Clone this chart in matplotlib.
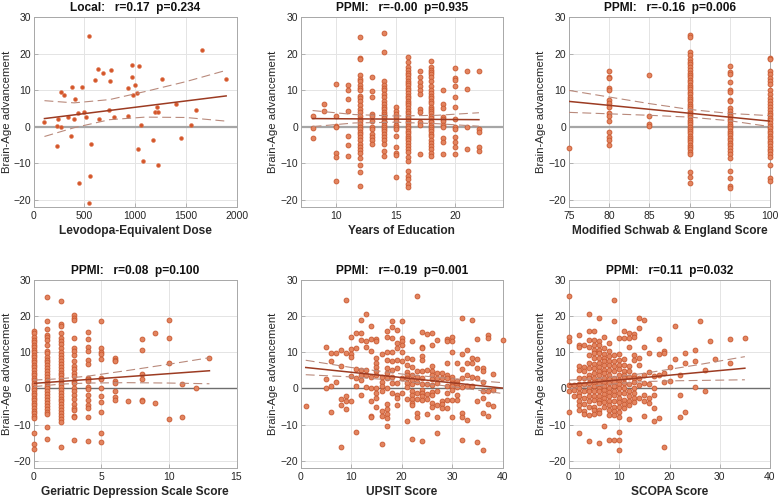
import numpy as np
import matplotlib
matplotlib.use("Agg")
import matplotlib.pyplot as plt

plt.rcParams["font.family"] = ["Liberation Sans", "DejaVu Sans"]

# ---- Local: Levodopa-equivalent dose ----
lev_x = [108, 551, 230, 230, 246, 269, 272, 305, 344, 370, 384, 400, 413, 439, 449,
         482, 502, 515, 551, 564, 561, 610, 633, 643, 682, 754, 764, 748, 793, 931,
         934, 974, 974, 980, 1003, 1020, 1043, 1030, 1062, 1075, 1180, 1200, 1216,
         1226, 1226, 1262, 1403, 1449, 1548, 1603, 1662, 1898]
lev_y = [1.2, 24.8, -5.4, 0.2, 2.1, 9.5, 0.0, 8.6, 2.7, -2.7, 10.8, 2.0, 7.6, 3.7, -15.4,
         10.8, 4.1, 2.6, -21.0, -4.8, -13.5, 12.8, 15.8, 2.1, 14.6, 12.4, 15.6, 4.6, 2.6, 10.6,
         3.0, 16.8, 13.7, 8.6, 11.5, 9.2, 16.5, -6.0, 0.5, -9.3, -3.6, 4.1, 5.3,
         3.9, -10.5, 13.1, 6.2, -3.2, 0.5, 4.6, 21.1, 13.1]
lev_fit_x = [108, 1898]
lev_fit_y = [2.2, 8.4]
lev_ci_x = [108, 400, 750, 1100, 1500, 1898]
lev_ci_hi = [7.1, 6.5, 7.4, 9.6, 12.3, 15.4]
lev_ci_lo = [-2.7, -0.3, 1.9, 2.6, 2.5, 1.5]

# ---- PPMI: Years of education ----
edu_levels = [8, 9, 10, 11, 12, 13, 14, 15, 16, 17, 18, 19, 20, 21, 22]
edu_values = [
    [2.8, -0.5, -3.0],
    [6.2, 4.3],
    [11.7, 3.0, 0.3, 0.0, -7.1, -8.2, -14.8],
    [11.4, 10.1, 7.5, 4.4, -2.7, -4.9, -8.0],
    [24.4, 18.9, 18.6, 14.0, 13.1, 12.4, 11.3, 10.6, 9.9, 8.5, 7.8, 7.1, 5.8, 4.9, 3.9,
     3.0, 2.1, 1.5, 0.7, 0.0, -0.6, -1.6, -2.0, -2.9, -3.8, -4.8, -5.7, -6.4, -7.1, -8.6,
     -10.4, -12.3, -16.2],
    [13.7, 9.7, 8.2, 3.5, 3.0, 1.6, 0.0, -0.6, -2.0, -2.9, -3.7, -4.8],
    [25.5, 20.4, 12.4, 11.3, 10.6, 9.9, 9.0, 8.1, 7.1, 6.2, 5.3, 4.9, 3.9, 3.5, 3.0, 2.4,
     1.6, 1.2, 0.5, 0.0, -0.6, -1.3, -2.0, -2.9, -3.8, -4.8, -6.6, -8.0],
    [5.3, 4.4, 3.5, 2.6, 1.5, 0.5, -0.2, -0.6, -2.5, -5.7, -7.1, -7.7, -13.7],
    [19.0, 17.6, 16.3, 15.4, 14.7, 14.1, 13.4, 12.6, 11.9, 11.3, 10.6, 9.9, 9.2, 8.5, 7.9,
     7.1, 6.4, 5.8, 5.1, 4.4, 3.7, 3.0, 2.4, 1.6, 0.9, 0.3, -0.4, -1.1, -1.8, -2.5, -3.1,
     -3.8, -4.6, -5.3, -6.1, -7.0, -8.4, -9.3, -12.1, -13.5, -14.4, -15.6, -16.5],
    [15.1, 13.7, 12.2, 11.0, 9.9, 8.8, 4.9, 3.9, 1.2, 0.5, -7.5],
    [17.9, 16.3, 15.6, 14.9, 14.3, 13.6, 12.6, 11.0, 10.1, 9.2, 8.5, 7.9, 7.1, 6.4, 5.5,
     4.9, 4.4, 3.7, 3.0, 2.4, 1.6, 1.2, 0.5, 0.0, -0.6, -1.3, -2.0, -2.7, -3.7, -4.6, -5.2,
     -6.1, -7.1, -8.0],
    [9.9, 6.2, 5.1, 2.6, 2.1, 1.5, 0.5, -0.2, -3.1, -4.3, -7.5],
    [16.0, 13.3, 12.8, 11.0, 8.1, 5.3, 2.1, 0.0, -0.6, -2.9, -4.3, -5.7, -7.5],
    [15.1, 10.3, 0.0, -6.1],
    [15.1, -0.6, -1.6, -5.7, -6.8],
]
edu_fit_x = [8, 22]
edu_fit_y = [2.2, 1.9]
edu_ci_x = [8, 11.5, 15, 18.5, 22]
edu_ci_hi = [4.4, 3.3, 2.9, 3.1, 3.8]
edu_ci_lo = [0.0, 1.0, 1.2, 0.8, 0.1]

# ---- PPMI: Modified Schwab & England ----
mse_levels = [75, 80, 85, 90, 95, 100]
mse_values = [
    [-5.8],
    [15.2, 13.7, 13.4, 10.6, 10.1, 7.3, 6.4, 5.3, 3.8, 3.0, 1.6, -1.4, -2.9, -3.7, -4.9],
    [14.1, 2.8, 0.7, 0.2],
    [25.2, 24.5, 20.3, 19.5, 18.6, 17.8, 17.0, 16.2, 15.5, 14.8, 14.1, 13.5, 12.8, 12.1,
     11.5, 10.8, 10.2, 9.5, 8.9, 8.2, 7.6, 7.0, 6.3, 5.7, 5.0, 4.4, 3.8, 3.1, 2.5, 1.9,
     1.2, 0.6, 0.0, -0.6, -1.2, -1.8, -2.5, -3.1, -3.7, -4.3, -5.0, -5.6, -6.2, -6.9,
     -7.6, -12.3, -13.8, -15.3],
    [16.5, 15.0, 14.4, 12.3, 10.0, 9.4, 7.3, 7.0, 5.0, 4.3, 3.5, 2.8, 2.1, 1.4, 0.8, 0.2,
     -0.5, -1.1, -1.8, -2.4, -3.1, -3.8, -4.4, -5.1, -5.8, -6.6, -7.4, -8.5, -12.2,
     -14.2, -16.3, -16.8],
    [18.9, 18.6, 15.2, 14.3, 13.4, 12.6, 11.7, 9.9, 8.9, 7.8, 7.0, 6.2, 5.3, 4.6, 3.8,
     3.1, 2.4, 1.7, 1.0, 0.3, -0.4, -1.1, -1.8, -2.5, -3.2, -3.9, -4.6, -5.3, -6.0, -6.8,
     -7.6, -8.4, -10.4, -14.2, -14.9],
]
mse_fit_x = [75, 100]
mse_fit_y = [6.9, 1.5]
mse_ci_x = [75, 80, 85, 90, 95, 100]
mse_ci_hi = [9.9, 8.1, 6.3, 4.7, 3.6, 3.0]
mse_ci_lo = [3.9, 3.5, 3.1, 2.6, 1.6, 0.0]

# ---- PPMI: Geriatric depression scale ----
gds_levels = [0, 1, 2, 3, 4, 5, 6, 7, 8, 9, 10, 11, 12, 13]
gds_values = [
    [16.0, 15.3, 14.2, 13.5, 12.8, 12.1, 11.4, 10.7, 10.0, 9.3, 8.6, 7.9, 7.2, 6.5, 5.8,
     5.1, 4.4, 3.7, 3.0, 2.3, 1.6, 0.9, 0.2, -0.5, -1.2, -1.9, -2.6, -3.3, -4.0, -4.7,
     -5.4, -6.1, -6.8, -7.5, -8.3, -12.3, -15.4, -16.8],
    [25.3, 18.7, 16.5, 14.8, 14.2, 13.4, 12.0, 10.5, 9.7, 8.8, 8.0, 7.2, 6.4, 5.6, 4.8,
     4.0, 3.2, 2.4, 1.6, 0.8, 0.0, -0.8, -1.6, -2.4, -3.2, -4.0, -4.8, -5.6, -6.4, -7.0,
     -10.6, -14.0],
    [24.3, 17.8, 17.2, 15.3, 14.0, 13.1, 12.2, 11.2, 10.2, 9.3, 8.4, 7.6, 6.8, 6.0, 5.2,
     4.4, 3.6, 2.8, 2.0, 1.2, 0.4, -0.4, -1.2, -2.0, -2.8, -3.6, -4.4, -5.2, -6.0, -6.8,
     -7.6, -8.4, -9.2, -16.3],
    [20.2, 19.6, 19.0, 14.0, 11.3, 10.5, 9.2, 7.5, 6.2, 5.5, 4.3, 3.5, 2.2, 1.4, 0.2,
     -0.8, -1.8, -2.8, -4.2, -5.4, -6.0, -7.5, -8.0, -14.3],
    [15.6, 13.6, 11.5, 10.5, 8.0, 6.9, 3.0, 2.5, 2.0, 0.5, -0.2, -1.7, -3.3, -4.6, -5.3,
     -8.0, -14.4],
    [18.6, 11.3, 10.0, 9.5, 8.2, 3.0, 2.5, 0.0, -2.0, -3.8, -6.6, -12.2, -14.8],
    [8.5, 8.0, 7.6, 2.0, 1.5, -0.8, -2.4, -3.2],
    [-3.5],
    [13.7, 10.6, 4.0, 2.5, -3.1, -3.6],
    [15.3, -4.0],
    [18.9, 14.0, 7.0, -8.5],
    [1.2, -8.0],
    [0.1],
    [8.4],
]
gds_fit_x = [0, 13]
gds_fit_y = [1.4, 4.9]
gds_ci_x = [0, 2, 4, 7, 10, 13]
gds_ci_hi = [2.3, 2.7, 3.4, 5.0, 6.7, 8.5]
gds_ci_lo = [0.5, 1.2, 1.5, 1.6, 1.5, 1.3]

# ---- PPMI: UPSIT ----
ups_levels = [1, 5, 6, 7, 8, 9, 10, 11, 12, 13, 14, 15, 16, 17, 18, 19, 20, 21, 22, 23,
              24, 25, 26, 27, 28, 29, 30, 31, 32, 33, 34, 35, 36, 37, 38, 40]
ups_values = [
    [-4.8],
    [11.4, 2.7, 0.1],
    [9.9, 7.7, 0.6, -6.6],
    [9.9, 1.7],
    [10.7, 6.2, -2.9, -4.6, -16.3],
    [24.6, 9.8, -2.2, -3.4, -5.8],
    [14.1, 10.9, 9.5, 8.6, 3.5, -3.4],
    [15.3, 11.2, 5.4, 2.9, 0.6, -12.1],
    [19.0, 15.3, 13.5, 5.2, 3.8, 2.4, -1.8],
    [20.6, 13.0, 11.6, 5.2, 3.8, 0.3],
    [17.4, 13.8, 10.4, 3.3, 0.1, -3.6, -7.5, -8.0],
    [13.8, 13.0, 8.4, 7.0, 5.8, 4.7, 3.6, 0.1, -1.3, -2.5, -5.0],
    [9.5, 3.3, 1.9, 0.6, -0.8, -6.2, -7.5, -15.3],
    [15.8, 14.1, 10.2, 7.9, 5.6, 4.2, 2.9, 0.1, -4.3, -5.6, -7.1, -8.2, -10.5],
    [18.7, 16.9, 13.9, 10.2, 7.5, 5.2, 3.3, 1.5, -1.3],
    [16.3, 12.6, 11.2, 7.9, 5.6, 1.5, -1.8, -2.7, -4.7],
    [18.7, 13.9, 13.0, 12.1, 10.2, 7.5, 3.0, -1.3],
    [8.4, 6.4, 4.5, 3.8, 2.9, 1.5, 0.3, -2.9, -9.1],
    [13.2, 8.2, 5.8, 3.6, 2.4, 1.2, -0.6, -1.8, -2.9, -4.1, -4.7, -13.9],
    [25.7, 4.7, 3.3, 1.9, -1.3, -2.9, -6.8, -7.8],
    [15.5, 11.6, 11.2, 8.9, 7.9, 4.9, 2.9, 1.2, -0.4, -1.3, -2.2, -3.1, -14.5],
    [15.1, 5.2, 1.2, -1.6, -2.9, -7.1],
    [15.3, 12.1, 6.1, 4.7, 3.6, 2.7, 1.0, -1.0, -1.9, -4.1, -5.0],
    [13.5, 4.2, 2.9, 1.5, -0.8, -4.5, -8.0, -12.4],
    [4.2, 2.9, -3.6, -4.3, -5.3],
    [13.7, 13.0, 7.0, 3.8, 2.9, 0.6, -1.3, -3.1, -5.4],
    [14.1, 13.2, 10.1, 3.3, 2.4, 1.5, 0.6, -0.4, -3.1, -8.0],
    [7.0, 2.1, 1.2, 0.3, -1.9, -3.1],
    [19.5, 9.5, 5.4, 3.0, 0.3, -6.8, -7.8, -14.2],
    [10.7, 7.0, 3.8, 0.6, -8.7],
    [19.0, 8.4, 7.0, 3.3, 0.6],
    [13.8, 8.2, 5.6, 2.9, -3.4, -14.9],
    [5.6, 4.7, 1.9, -0.6, -2.7, -6.8, -17.0],
    [14.9, 13.9, -0.8, -4.3, -7.5],
    [4.0, -0.4, -4.8],
    [13.5],
]
ups_fit_x = [1, 40]
ups_fit_y = [5.8, 0.1]
ups_ci_x = [1, 10, 20, 30, 40]
ups_ci_hi = [7.8, 5.8, 4.0, 2.7, 1.6]
ups_ci_lo = [3.8, 3.2, 2.1, 0.5, -1.4]

# ---- PPMI: SCOPA ----
sco_levels = [0, 1, 2, 3, 4, 5, 6, 7, 8, 9, 10, 11, 12, 13, 14, 15, 16, 17, 18, 19, 20,
              21, 22, 23, 25, 26, 27, 28, 29, 32, 35]
sco_values = [
    [25.5, 14.1, 13.0, 1.0, -0.6, -6.6],
    [1.0, -0.4, -2.2],
    [14.9, 12.1, 11.4, 6.1, 5.2, 2.9, 1.2, 0.1, -1.3, -2.2, -3.6, -4.7, -5.9, -12.4],
    [12.1, 5.8, 4.7, 2.9, 1.2, -0.6, -2.7, -4.3, -6.2, -7.1],
    [20.6, 15.8, 13.5, 11.4, 9.3, 7.0, 5.6, 3.8, 2.9, 1.5, 0.1, -0.8, -2.2, -3.6, -5.0,
     -7.3, -14.5],
    [15.8, 13.5, 12.1, 10.7, 9.8, 8.4, 6.7, 5.6, 4.2, 2.9, 1.8, 0.6, -0.8, -2.2, -3.1,
     -5.0, -5.9, -7.1],
    [19.5, 13.2, 12.1, 10.7, 9.8, 8.4, 7.0, 5.8, 4.7, 3.8, 2.4, 1.2, 0.1, -0.8, -2.2,
     -3.1, -4.1, -5.9, -6.8, -15.1],
    [14.1, 11.2, 9.5, 8.4, 7.5, 6.4, 5.2, 4.2, 3.0, 1.9, 0.8, -0.4, -1.6, -2.7, -3.8,
     -5.0, -10.5],
    [12.6, 10.4, 9.1, 7.5, 6.4, 5.2, 3.8, 2.7, 1.5, 0.1, -1.0, -2.2, -3.4, -4.7, -5.9,
     -7.3, -14.2],
    [24.6, 18.7, 9.3, 7.5, 6.1, 4.7, 2.9, 1.8, 0.6, -0.8, -1.9, -3.6, -5.0, -6.2, -7.3,
     -14.2],
    [13.9, 9.5, 7.9, 6.4, 5.4, 3.8, 2.4, 1.2, 0.1, -1.3, -2.7, -3.8, -5.0, -6.4, -7.8,
     -12.1, -14.2, -17.0],
    [15.8, 13.9, 8.2, 6.4, 4.7, 3.6, 2.9, 1.5, 0.1, -1.3, -3.1, -4.3, -5.4],
    [15.3, 13.9, 11.6, 6.1, 4.7, 3.3, 1.2, -0.8, -2.2, -3.6, -4.7, -8.4],
    [15.1, 14.1, 9.3, 7.9, 3.8, 2.9, 1.8, 0.1, -1.3, -2.7, -3.8],
    [19.5, 16.7, 8.4, 6.4, 2.9, 1.0, -2.5],
    [19.0, 11.6, 3.6, 1.5, -1.8, -3.6, -7.5],
    [9.8, 4.5, 1.2, -2.7, -4.1],
    [3.5, 0.1, -1.9, -5.4, -9.1],
    [13.8, 9.5, 3.8, -8.2],
    [10.4, 9.7, 4.3, 1.8, -16.3],
    [5.8, 2.1],
    [17.3, 8.1],
    [3.7, -1.8, -8.0],
    [9.8, 7.0, -6.6],
    [10.7, 7.7, 0.3],
    [18.7],
    [5.2, -0.6],
    [13.2],
    [8.2],
    [13.8, 7.0],
    [13.9],
]
sco_fit_x = [0, 35]
sco_fit_y = [1.1, 5.6]
sco_ci_x = [0, 5, 10, 15, 20, 25, 30, 35]
sco_ci_hi = [2.3, 2.7, 3.3, 4.2, 5.3, 6.4, 7.6, 8.8]
sco_ci_lo = [-0.1, 0.7, 1.4, 1.9, 2.1, 2.2, 2.3, 2.4]

fit_color = "#9c3b22"
ci_color = "#b98a7c"
face = "#e3845f"
edge = "#c9582f"


def flatten(levels, values):
    xs, ys = [], []
    for lv, vals in zip(levels, values):
        xs += [lv] * len(vals)
        ys += vals
    return xs, ys


def panel(rect, xs, ys, fit_x, fit_y, ci_x, ci_hi, ci_lo, xlim, xticks, xlabel,
          title, zero_color, zero_lw, ylab_px, small=False):
    ax = fig.add_axes(rect)
    ax.set_xlim(xlim)
    ax.set_ylim(-22, 30)
    ax.set_xticks(xticks)
    ax.set_yticks([-20, -10, 0, 10, 20, 30])
    ax.grid(True, color="#e4e4e4", lw=0.7)
    ax.set_axisbelow(True)
    for s in ax.spines.values():
        s.set_color("#a8a8a8")
        s.set_linewidth(0.7)
    ax.tick_params(direction="in", length=3, width=0.6, color="#a8a8a8",
                   labelcolor="#262626", labelsize=7.5, pad=3)
    ax.tick_params(axis="y", pad=2)
    ax.axhline(0, color=zero_color, lw=zero_lw, zorder=1)
    if small:
        ax.plot(xs, ys, "o", ms=2.8, mfc="#d4562a", mec="#e07a55", mew=0.4,
                ls="none", clip_on=False, zorder=3)
    else:
        ax.plot(xs, ys, "o", ms=3.5, mfc=face, mec=edge, mew=0.6,
                ls="none", clip_on=False, zorder=3)
    ax.plot(fit_x, fit_y, color=fit_color, lw=1.1, zorder=4)
    ax.plot(ci_x, ci_hi, color=ci_color, lw=0.8, dashes=(8, 4), zorder=4)
    ax.plot(ci_x, ci_lo, color=ci_color, lw=0.8, dashes=(8, 4), zorder=4)
    ax.set_xlabel(xlabel, fontsize=8.6, fontweight="bold", color="#262626", labelpad=3)
    ax.set_ylabel("Brain-Age advancement", fontsize=8.2, color="#262626")
    # y label: its right edge sits at a fixed pixel column
    left_px = rect[0] * 780
    width_px = rect[2] * 780
    ax.yaxis.set_label_coords((ylab_px - left_px) / width_px, 0.5)
    ax.set_title(title, fontsize=8.6, fontweight="bold", color="#111111", pad=4)
    return ax


fig = plt.figure(figsize=(7.8, 5.01), dpi=100)

top_b, top_h = 1 - 207 / 501, 190 / 501
bot_b, bot_h = 1 - 468 / 501, 188 / 501
cols = [(33.5 / 780, 203 / 780), (300.7 / 780, 202 / 780), (569 / 780, 201 / 780)]
ylab_cols = [12.5, 278, 546]

panel([cols[0][0], top_b, cols[0][1], top_h], lev_x, lev_y, lev_fit_x, lev_fit_y,
      lev_ci_x, lev_ci_hi, lev_ci_lo, (0, 2000), [0, 500, 1000, 1500, 2000],
      "Levodopa-Equivalent Dose", "Local:   r=0.17  p=0.234", "#a6a6a6", 1.6,
      ylab_cols[0], small=True)

x, y = flatten(edu_levels, edu_values)
panel([cols[1][0], top_b, cols[1][1], top_h], x, y, edu_fit_x, edu_fit_y,
      edu_ci_x, edu_ci_hi, edu_ci_lo, (7, 24), [10, 15, 20],
      "Years of Education", "PPMI:   r=-0.00  p=0.935", "#a6a6a6", 1.6, ylab_cols[1])

x, y = flatten(mse_levels, mse_values)
panel([cols[2][0], top_b, cols[2][1], top_h], x, y, mse_fit_x, mse_fit_y,
      mse_ci_x, mse_ci_hi, mse_ci_lo, (75, 100), [75, 80, 85, 90, 95, 100],
      "Modified Schwab & England Score", "PPMI:   r=-0.16  p=0.006", "#a6a6a6", 1.6,
      ylab_cols[2])

x, y = flatten(gds_levels, gds_values)
panel([cols[0][0], bot_b, cols[0][1], bot_h], x, y, gds_fit_x, gds_fit_y,
      gds_ci_x, gds_ci_hi, gds_ci_lo, (0, 15), [0, 5, 10, 15],
      "Geriatric Depression Scale Score", "PPMI:   r=0.08  p=0.100", "#6e6e6e", 1.0,
      ylab_cols[0])

x, y = flatten(ups_levels, ups_values)
panel([cols[1][0], bot_b, cols[1][1], bot_h], x, y, ups_fit_x, ups_fit_y,
      ups_ci_x, ups_ci_hi, ups_ci_lo, (0, 40), [0, 10, 20, 30, 40],
      "UPSIT Score", "PPMI:   r=-0.19  p=0.001", "#6e6e6e", 1.0, ylab_cols[1])

x, y = flatten(sco_levels, sco_values)
panel([cols[2][0], bot_b, cols[2][1], bot_h], x, y, sco_fit_x, sco_fit_y,
      sco_ci_x, sco_ci_hi, sco_ci_lo, (0, 40), [0, 10, 20, 30, 40],
      "SCOPA Score", "PPMI:   r=0.11  p=0.032", "#6e6e6e", 1.0, ylab_cols[2])

fig.savefig("out.png", dpi=100)
